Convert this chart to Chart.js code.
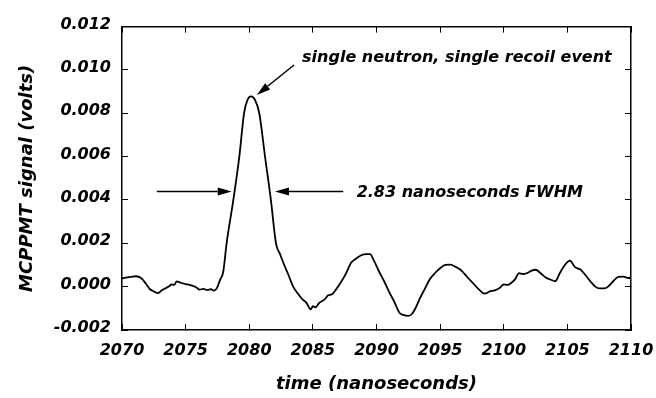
<!DOCTYPE html>
<html><head><meta charset="utf-8">
<script src="https://cdn.jsdelivr.net/npm/chart.js@4.4.1/dist/chart.umd.min.js"></script>
<style>html,body{margin:0;padding:0;background:#fff}canvas{display:block}</style>
</head><body>
<canvas id="c" width="656" height="398"></canvas>
<script>
// ---- data ----
const timeNs = [
  2070.0, 2070.3, 2070.7, 2071.1, 2071.5, 2071.9, 2072.2, 2072.5, 2072.85, 2073.1,
  2073.4, 2073.7, 2073.9, 2074.1, 2074.3, 2074.6, 2075.0, 2075.3, 2075.6, 2075.9,
  2076.1, 2076.4, 2076.7, 2077.0, 2077.2, 2077.45, 2077.7, 2077.96, 2078.22, 2078.75,
  2079.22, 2079.59, 2079.85, 2080.15, 2080.45, 2080.79, 2081.24, 2081.7, 2082.1, 2082.42,
  2082.75, 2083.07, 2083.45, 2083.86, 2084.2, 2084.5, 2084.83, 2085.0, 2085.2, 2085.5,
  2085.9, 2086.2, 2086.5, 2086.8, 2087.2, 2087.6, 2088.0, 2088.4, 2088.8, 2089.2,
  2089.5, 2089.8, 2090.2, 2090.6, 2091.0, 2091.4, 2091.8, 2092.1, 2092.5, 2092.8,
  2093.1, 2093.4, 2093.8, 2094.2, 2094.6, 2095.0, 2095.4, 2095.8, 2096.2, 2096.6,
  2096.9, 2097.2, 2097.6, 2098.0, 2098.5, 2098.9, 2099.3, 2099.7, 2100.0, 2100.3,
  2100.6, 2100.9, 2101.2, 2101.5, 2101.8, 2102.2, 2102.5, 2102.9, 2103.3, 2103.7,
  2104.05, 2104.4, 2104.8, 2105.2, 2105.6, 2106.0, 2106.4, 2106.8, 2107.2, 2107.5,
  2107.9, 2108.2, 2108.6, 2109.0, 2109.4, 2109.8, 2110.0
];
const signalVolts = [
  0.00038, 0.00042, 0.00045, 0.00048, 0.00040, 0.00012, -0.00012, -0.00022, -0.00030, -0.00018,
  -0.00008, 0.00002, 0.00010, 0.00008, 0.00024, 0.00018, 0.00012, 0.00008, 0.00003, -0.00006,
  -0.00014, -0.00010, -0.00016, -0.00012, -0.00018, -0.00008, 0.00030, 0.00070, 0.00200, 0.00400,
  0.00600, 0.00800, 0.00860, 0.00878, 0.00862, 0.00800, 0.00600, 0.00400, 0.00200, 0.00150,
  0.00100, 0.00056, 0.00000, -0.00035, -0.00060, -0.00075, -0.00105, -0.00090, -0.00095, -0.00075,
  -0.00060, -0.00040, -0.00035, -0.00015, 0.00020, 0.00060, 0.00110, 0.00130, 0.00145, 0.00150,
  0.00150, 0.00120, 0.00070, 0.00025, -0.00025, -0.00070, -0.00120, -0.00130, -0.00135, -0.00125,
  -0.00095, -0.00055, -0.00010, 0.00035, 0.00063, 0.00085, 0.00100, 0.00102, 0.00092, 0.00078,
  0.00060, 0.00040, 0.00015, -0.00010, -0.00032, -0.00022, -0.00017, -0.00005, 0.00010, 0.00008,
  0.00018, 0.00035, 0.00062, 0.00058, 0.00062, 0.00074, 0.00078, 0.00062, 0.00042, 0.00032,
  0.00025, 0.00062, 0.00100, 0.00120, 0.00090, 0.00080, 0.00055, 0.00025, 0.00000, -0.00008,
  -0.00008, 0.00000, 0.00025, 0.00045, 0.00046, 0.00040, 0.00040
];
const xTickValues = [2070, 2075, 2080, 2085, 2090, 2095, 2100, 2105, 2110];
const yTickValues = [-0.002, 0.000, 0.002, 0.004, 0.006, 0.008, 0.010, 0.012];
const xTitle = 'time (nanoseconds)';
const yTitle = 'MCPPMT signal (volts)';
const peakNote = 'single neutron, single recoil event';
const fwhmNote = '2.83 nanoseconds FWHM';

// ---- layout / styling ----
const FONT = 'DejaVu Sans';
const tickFont = {family: FONT, size: 16, weight: 'bold', style: 'italic'};
const titleFont = {family: FONT, size: 18, weight: 'bold', style: 'italic'};
const fixTicks = vals => scale => { scale.ticks = vals.map(v => ({value: v})); };

// annotation anchors in data space (text anchors are left/baseline)
const annotations = {
  peakText: {x: 2084.15, y: 0.01038},
  peakArrow: {from: [2083.52, 0.01023], to: [2080.59, 0.00884]},
  fwhmLeft: {from: [2072.73, 0.00439], to: [2078.62, 0.00439]},
  fwhmRight: {from: [2087.39, 0.00439], to: [2082.02, 0.00439]},
  fwhmText: {x: 2088.44, y: 0.00412}
};

function arrow(ctx, x1, y1, x2, y2) {
  const ang = Math.atan2(y2 - y1, x2 - x1);
  const len = 14, hw = 4;
  const bx = x2 - len * Math.cos(ang), by = y2 - len * Math.sin(ang);
  ctx.beginPath();
  ctx.moveTo(x1, y1);
  ctx.lineTo(bx, by);
  ctx.stroke();
  ctx.beginPath();
  ctx.moveTo(x2, y2);
  ctx.lineTo(bx + hw * Math.sin(ang), by - hw * Math.cos(ang));
  ctx.lineTo(bx - hw * Math.sin(ang), by + hw * Math.cos(ang));
  ctx.closePath();
  ctx.fill();
}

const annotationPlugin = {
  id: 'notes',
  afterDatasetsDraw(chart) {
    const ctx = chart.ctx, xs = chart.scales.x, ys = chart.scales.y;
    const px = v => xs.getPixelForValue(v), py = v => ys.getPixelForValue(v);
    ctx.save();
    ctx.strokeStyle = '#000';
    ctx.fillStyle = '#000';
    ctx.lineWidth = 1.5;
    const a = annotations;
    arrow(ctx, px(a.peakArrow.from[0]), py(a.peakArrow.from[1]), px(a.peakArrow.to[0]), py(a.peakArrow.to[1]));
    arrow(ctx, px(a.fwhmLeft.from[0]), py(a.fwhmLeft.from[1]), px(a.fwhmLeft.to[0]), py(a.fwhmLeft.to[1]));
    arrow(ctx, px(a.fwhmRight.from[0]), py(a.fwhmRight.from[1]), px(a.fwhmRight.to[0]), py(a.fwhmRight.to[1]));
    ctx.font = 'italic bold 16px "DejaVu Sans"';
    ctx.textAlign = 'left';
    ctx.textBaseline = 'alphabetic';
    ctx.fillText(peakNote, px(a.peakText.x), py(a.peakText.y));
    ctx.fillText(fwhmNote, px(a.fwhmText.x), py(a.fwhmText.y));
    ctx.restore();
  }
};

const axisBorder = {display: true, color: '#000', width: 1.5};
const innerTicks = {drawOnChartArea: false, drawTicks: true, tickLength: -6, color: '#000', lineWidth: 1};
const noSidePad = s => { s.paddingLeft = 0; s.paddingRight = 0; };

new Chart(document.getElementById('c'), {
  type: 'line',
  data: {
    datasets: [{
      data: timeNs.map((t, i) => ({x: t, y: signalVolts[i]})),
      borderColor: '#000',
      borderWidth: 1.8,
      pointRadius: 0,
      fill: false,
      cubicInterpolationMode: 'monotone'
    }]
  },
  options: {
    responsive: false,
    animation: false,
    devicePixelRatio: 1,
    layout: {padding: 0},
    plugins: {legend: {display: false}, tooltip: {enabled: false}},
    scales: {
      x: {
        type: 'linear', position: 'bottom', min: 2070, max: 2110,
        afterBuildTicks: fixTicks(xTickValues),
        afterFit: s => { s.height = 68; noSidePad(s); },
        border: axisBorder, grid: innerTicks,
        ticks: {color: '#000', font: tickFont, padding: 17, maxRotation: 0, autoSkip: false,
                callback: v => String(v)},
        title: {display: true, text: xTitle, color: '#000', font: titleFont, padding: {top: 0, bottom: 3}}
      },
      y: {
        type: 'linear', position: 'left', min: -0.002, max: 0.012,
        afterBuildTicks: fixTicks(yTickValues),
        afterFit: s => { s.width = 122; },
        border: axisBorder, grid: innerTicks,
        ticks: {color: '#000', font: tickFont, padding: 17, autoSkip: false, labelOffset: -2,
                callback: v => v.toFixed(3)},
        title: {display: true, text: yTitle, color: '#000', font: titleFont, padding: {top: 17, bottom: 0}}
      },
      x2: {
        type: 'linear', position: 'top', min: 2070, max: 2110,
        afterBuildTicks: fixTicks(xTickValues),
        afterFit: s => { s.height = 21; noSidePad(s); },
        border: axisBorder, grid: innerTicks,
        ticks: {display: false}
      },
      y2: {
        type: 'linear', position: 'right', min: -0.002, max: 0.012,
        afterBuildTicks: fixTicks(yTickValues),
        afterFit: s => { s.width = 25; },
        border: axisBorder, grid: innerTicks,
        ticks: {display: false}
      }
    }
  },
  plugins: [annotationPlugin]
});
</script>
</body></html>
